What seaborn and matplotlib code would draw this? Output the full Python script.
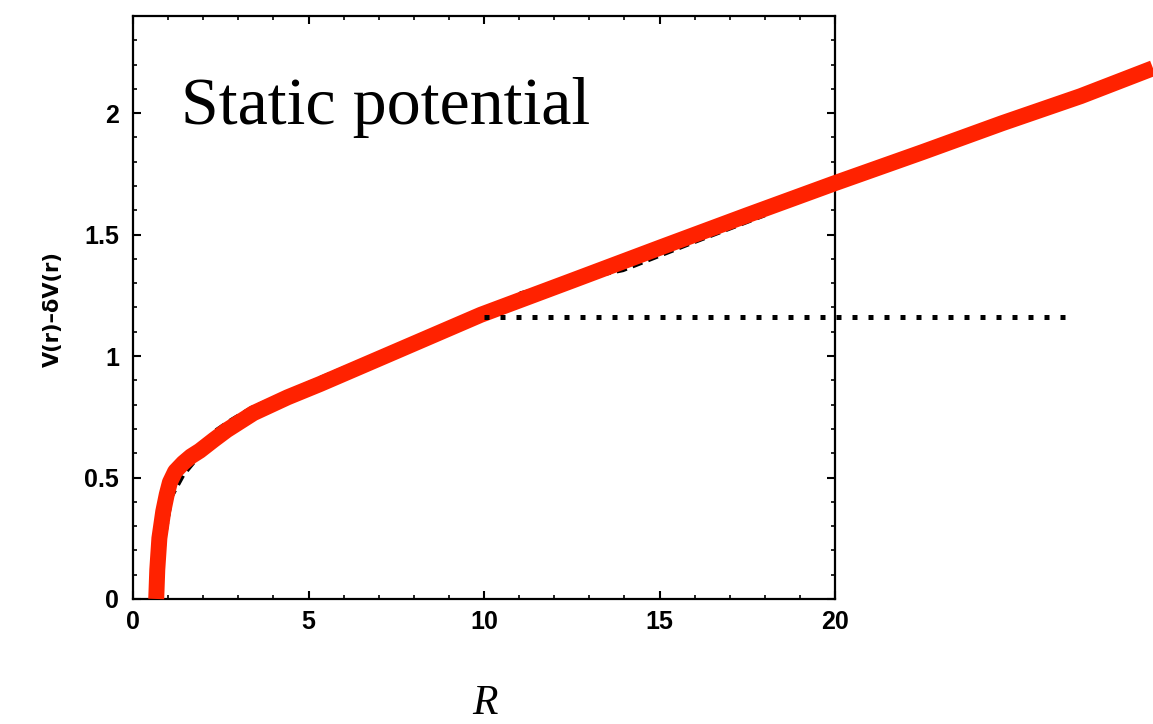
import numpy as np
import pandas as pd
import matplotlib
matplotlib.use("Agg")
import matplotlib.pyplot as plt
from matplotlib.ticker import MultipleLocator
import seaborn as sns

# Static potential V(R) - dV(R): smoothed band
R_band = [0.66, 0.69, 0.75, 0.86, 0.96, 1.05, 1.2, 1.43, 1.65, 1.9, 2.3,
          2.67, 3.43, 4.4, 5.33, 7.5, 9.91, 12.5, 15.06, 17.5, 20.0, 22.5,
          24.77, 27.0, 29.06]
V_band = [0.0, 0.12, 0.25, 0.36, 0.43, 0.48, 0.525, 0.56, 0.587, 0.61, 0.655,
          0.695, 0.765, 0.83, 0.885, 1.02, 1.17, 1.31, 1.449, 1.58, 1.712,
          1.84, 1.959, 2.07, 2.185]

# Lattice curve (dashed, mostly underneath the band)
R_lat = [0.75, 0.9, 1.09, 1.43, 1.77, 2.29, 2.8, 3.37, 4.23, 5.5, 7.0, 8.5,
         10.0, 11.06, 12.5, 13.96, 16.0, 18.0]
V_lat = [0.0, 0.25, 0.42, 0.51, 0.57, 0.687, 0.737, 0.786, 0.84, 0.92, 1.01,
         1.09, 1.18, 1.259, 1.31, 1.354, 1.47, 1.58]

# Asymptotic level (dotted)
R_level = [10.0, 26.83]
V_level = [1.16, 1.16]

x_ticks = [0, 5, 10, 15, 20]
y_ticks = [0, 0.5, 1, 1.5, 2]
y_tick_labels = ["0", "0.5", "1", "1.5", "2"]

sns.set_style("ticks", {"text.color": "black", "axes.labelcolor": "black",
                        "xtick.color": "black", "ytick.color": "black",
                        "axes.edgecolor": "black"})
plt.rcParams["font.family"] = ["Liberation Sans", "DejaVu Sans"]

fig = plt.figure(figsize=(11.53, 7.24), dpi=100)
ax = fig.add_axes([0.1154, 0.1727, 0.6088, 0.8052])

band = pd.DataFrame({"R": R_band, "V": V_band})
lat = pd.DataFrame({"R": R_lat, "V": V_lat})
level = pd.DataFrame({"R": R_level, "V": V_level})

sns.lineplot(data=lat, x="R", y="V", ax=ax, color="black", lw=3.0,
             linestyle=(0, (2.5, 1.5)), zorder=2, clip_on=False)
sns.lineplot(data=band, x="R", y="V", ax=ax, color="#ff2200", lw=11.5,
             solid_capstyle="butt", solid_joinstyle="round", zorder=3,
             clip_on=False)
sns.lineplot(data=level, x="R", y="V", ax=ax, color="black", lw=3.6,
             linestyle=(0, (1, 2.2)), dash_capstyle="butt", zorder=4,
             clip_on=False)

ax.set_xlim(0, 20)
ax.set_ylim(0, 2.4)
ax.set_xticks(x_ticks)
ax.set_xticklabels([str(t) for t in x_ticks])
ax.set_yticks(y_ticks)
ax.set_yticklabels(y_tick_labels)
ax.xaxis.set_minor_locator(MultipleLocator(1))
ax.yaxis.set_minor_locator(MultipleLocator(0.1))
ax.tick_params(which="both", direction="in", top=True, right=True,
               color="black", labelcolor="black")
ax.tick_params(which="major", length=6, width=1.5, labelsize=18)
ax.tick_params(which="minor", length=3, width=1.2)
ax.tick_params(axis="x", which="major", pad=8)
ax.tick_params(axis="y", which="major", pad=10)
for lab in ax.get_xticklabels() + ax.get_yticklabels():
    lab.set_fontweight("bold")
for s in ax.spines.values():
    s.set_visible(True)
    s.set_linewidth(1.6)
    s.set_color("black")
ax.set_xlabel("")
ax.set_ylabel("")

ax.text(0.068, 0.815, "Static potential", transform=ax.transAxes,
        fontsize=49, family="Liberation Serif", va="baseline", ha="left",
        color="black")

fig.text(53 / 1153, 1 - 309 / 724, "V(r)\u2013\u03b4V(r)", rotation=90,
         ha="center", va="center", fontsize=15, fontweight="bold",
         family="DejaVu Sans", color="black")
fig.text(485 / 1153, 1 - 714 / 724, "R", ha="center", va="baseline",
         fontsize=30, style="italic", family="Liberation Serif",
         color="black")

fig.savefig("out.png", dpi=100)
